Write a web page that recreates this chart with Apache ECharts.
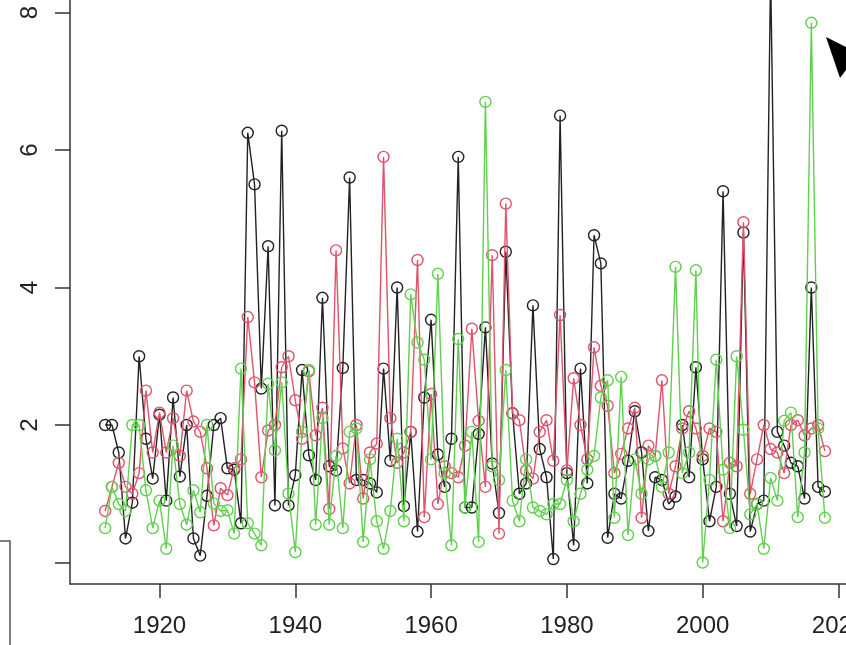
<!DOCTYPE html>
<html>
<head>
<meta charset="utf-8">
<script src="https://cdn.jsdelivr.net/npm/echarts@6/dist/echarts.min.js"></script>
<style>
html,body{margin:0;padding:0;background:#fff;overflow:hidden;width:846px;height:645px;position:relative;}
#chart{position:absolute;left:0;top:-80px;width:1000px;height:725px;}
</style>
</head>
<body>
<div id="chart"></div>
<script>
const years = [1912,1913,1914,1915,1916,1917,1918,1919,1920,1921,1922,1923,1924,1925,1926,1927,1928,1929,1930,1931,
1932,1933,1934,1935,1936,1937,1938,1939,1940,1941,1942,1943,1944,1945,1946,1947,1948,1949,1950,1951,
1952,1953,1954,1955,1956,1957,1958,1959,1960,1961,1962,1963,1964,1965,1966,1967,1968,1969,1970,1971,
1972,1973,1974,1975,1976,1977,1978,1979,1980,1981,1982,1983,1984,1985,1986,1987,1988,1989,1990,1991,
1992,1993,1994,1995,1996,1997,1998,1999,2000,2001,2002,2003,2004,2005,2006,2007,2008,2009,2010,2011,
2012,2013,2014,2015,2016,2017,2018];

const blackValues = [
2.0,2.0,1.6,0.35,0.87,3.0,1.8,1.22,2.15,0.9,      // 1912-1921
2.4,1.25,2.0,0.35,0.1,0.97,2.0,2.1,1.37,1.35,     // 1922-1931
0.57,6.25,5.5,2.53,4.6,0.83,6.28,0.83,1.27,2.8,   // 1932-1941
1.56,1.2,3.85,1.4,1.34,2.83,5.6,1.2,1.2,1.15,     // 1942-1951
1.02,2.82,1.48,4.0,0.82,1.9,0.45,2.4,3.53,1.57,   // 1952-1961
1.1,1.8,5.9,0.8,0.8,1.87,3.42,1.44,0.72,4.52,     // 1962-1971
2.17,1.0,1.15,3.74,1.65,1.24,0.05,6.5,1.3,0.25,   // 1972-1981
2.82,1.15,4.76,4.35,0.36,1.0,0.93,1.48,2.2,1.6,   // 1982-1991
0.46,1.24,1.2,0.85,0.96,2.0,1.24,2.84,1.5,0.6,    // 1992-2001
1.1,5.4,1.0,0.53,4.8,0.45,0.85,0.9,8.6,1.9,       // 2002-2011
1.7,1.45,1.4,0.93,4.0,1.1,1.03];                  // 2012-2018

const redValues = [
0.75,1.1,1.45,1.1,1.0,1.3,2.5,1.6,2.18,1.6,
2.1,1.55,2.5,2.05,1.9,1.37,0.54,1.08,0.98,1.37,
1.5,3.57,2.62,1.24,1.92,2.0,2.84,3.0,2.36,1.8,
2.78,1.85,2.25,0.78,4.54,1.66,1.15,2.0,0.93,1.6,
1.73,5.9,2.1,1.45,1.6,1.9,4.4,0.66,2.45,0.85,
1.4,1.3,1.24,1.7,3.4,2.06,1.1,4.47,0.42,5.22,
2.17,2.07,1.34,1.22,1.9,2.07,1.48,3.6,1.34,2.68,
2.0,1.5,3.13,2.57,2.28,1.3,1.58,1.95,2.25,0.65,
1.7,1.55,2.65,1.0,1.4,1.95,2.2,1.95,1.55,1.95,
1.9,0.6,1.45,1.4,4.95,1.0,1.5,2.0,1.65,1.6,
1.3,2.0,2.07,1.85,1.95,2.0,1.62];

const greenValues = [
0.5,1.1,0.85,0.75,2.0,2.0,1.05,0.5,0.9,0.2,
1.7,0.85,0.55,1.05,0.73,2.0,0.86,0.75,0.76,0.42,
2.82,0.57,0.42,0.25,2.6,1.63,2.62,1.0,0.15,1.9,
2.8,0.55,2.1,0.55,1.55,0.5,1.9,1.95,0.3,1.5,
0.6,0.2,0.75,1.8,0.6,3.9,3.2,2.95,1.5,4.2,
1.3,0.25,3.25,0.8,1.9,0.3,6.7,1.4,1.2,2.8,
0.9,0.6,1.5,0.8,0.75,0.7,0.85,0.85,1.2,0.6,
1.0,1.35,1.55,2.4,2.65,0.65,2.7,0.4,1.5,1.0,
1.5,1.55,1.1,1.6,4.3,1.3,1.6,4.25,0.0,1.2,
2.95,1.35,0.5,3.0,1.93,0.7,0.85,0.2,1.23,0.9,
2.06,2.18,0.66,1.6,7.85,1.95,0.65];

const xTickLabels = [1920,1940,1960,1980,2000,2020];
const yTickValues = [0,2,4,6,8];
const yTickLabels = [2,4,6,8];

function pairs(vals){ return years.map((y,i)=>[y, vals[i]]); }

const chart = echarts.init(document.getElementById('chart'), null, {renderer:'canvas'});
const OFFY = 80;                 // chart container is shifted up by this many px
const pxPerYear = 6.79;
const xMin = 1906.82, xMax = 2030;
const pxPerUnit = 68.75;
const yMin = -0.313, yMax = 9;

const textColor = '#222';
const font = 'Liberation Sans, Arial, Helvetica, sans-serif';

function lineSeries(name, vals, color, z){
  return {
    name, type:'line', data: pairs(vals), z,
    symbol:'circle', symbolSize:11, showAllSymbol:true, clip:false,
    lineStyle:{color:color, width:1.4},
    itemStyle:{color:'rgba(255,255,255,0)', borderColor:color, borderWidth:1.4},
    emphasis:{disabled:true}
  };
}

chart.setOption({
  animation:false,
  backgroundColor:'#fff',
  grid:{left:70, top:OFFY + 562.5 - yMax*pxPerUnit, width:(xMax-xMin)*pxPerYear, height:(yMax-yMin)*pxPerUnit, containLabel:false},
  xAxis:{
    type:'value', min:xMin, max:xMax,
    axisLine:{show:true, onZero:false, lineStyle:{color:'#333', width:1.5}},
    axisTick:{show:true, length:14, customValues:xTickLabels, lineStyle:{color:'#333', width:1.5}},
    axisLabel:{customValues:xTickLabels, fontSize:24, color:textColor, fontFamily:font, margin:30, formatter:(v)=>String(v)},
    splitLine:{show:false}
  },
  yAxis:{
    type:'value', min:yMin, max:yMax,
    axisLine:{show:true, onZero:false, lineStyle:{color:'#333', width:1.5}},
    axisTick:{show:true, length:15, customValues:yTickValues, lineStyle:{color:'#333', width:1.5}},
    axisLabel:{customValues:yTickLabels, fontSize:24, color:textColor, fontFamily:font, margin:28, rotate:90, formatter:(v)=>String(v)},
    splitLine:{show:false}
  },
  series:[
    lineSeries('black', blackValues, '#222222', 2),
    lineSeries('red', redValues, '#DF536B', 3),
    lineSeries('green', greenValues, '#61D04F', 4)
  ],
  graphic:[
    {type:'polygon', shape:{points:[[826,37+OFFY],[846,47+OFFY],[846,70+OFFY],[840,78+OFFY]]}, style:{fill:'#000'}, z:10},
    {type:'polyline', shape:{points:[[0,541+OFFY],[10,541+OFFY],[10,645+OFFY]]}, style:{stroke:'#555', lineWidth:1.5, fill:null}, z:10}
  ]
});
</script>
</body>
</html>
